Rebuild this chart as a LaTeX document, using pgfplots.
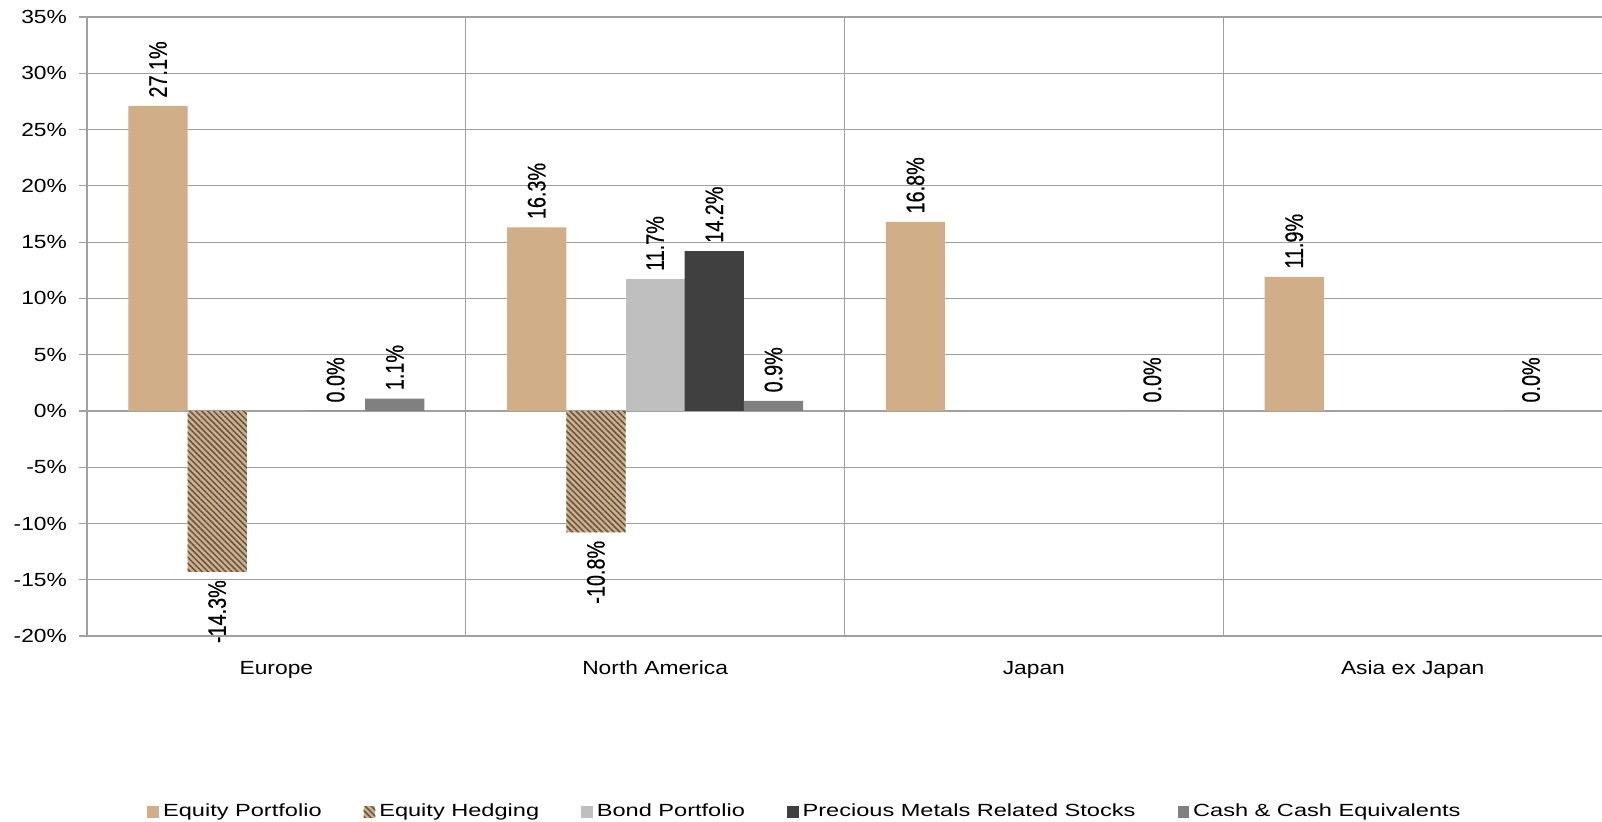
\documentclass[border=0pt]{standalone}
\usepackage{fontspec}
\setmainfont{Liberation Sans}
\newfontfamily\tickfont[FakeStretch=1.2]{Liberation Sans}
\newfontfamily\legfont[FakeStretch=1.34]{Liberation Sans}
\newfontfamily\rotfont[FakeStretch=0.78,FakeBold=0.4]{Liberation Sans}
\usepackage{pgfplots}
\pgfplotsset{compat=1.18}
\usetikzlibrary{patterns.meta}
\definecolor{eqtan}{RGB}{208,175,136}
\definecolor{stripe}{RGB}{95,85,72}
\definecolor{bondgray}{RGB}{191,191,191}
\definecolor{metalgray}{RGB}{64,64,64}
\definecolor{cashgray}{RGB}{128,128,128}
\definecolor{gridgray}{RGB}{160,160,160}
\begin{document}
\begin{tikzpicture}
\useasboundingbox (-43.5pt,-92.5pt) rectangle (757.5pt,318pt);
\pgfplotsset{mylegend/.style={legend image code/.code={\path[##1,draw=none] (0pt,-2.9pt) rectangle (5.8pt,2.9pt);}}}
\begin{axis}[
  at={(0pt,0pt)}, anchor=south west,
  scale only axis, width=757.5pt, height=309.5pt,
  ybar=0pt, bar width=29.6pt,
  xmin=-0.5, xmax=3.5, ymin=-20, ymax=35,
  xtick={0,1,2,3},
  xticklabels={Europe,North America,Japan,Asia ex Japan},
  minor xtick={0.5,1.5,2.5},
  xminorgrids,
  ytick={-20,-15,...,35},
  ymajorgrids,
  yticklabel={\pgfmathprintnumber{\tick}\%},
  /pgf/number format/assume math mode=true,
  axis x line*=bottom, axis y line*=left,
  axis line style={draw=gridgray, line width=0.6pt},
  grid style={draw=gridgray, line width=0.6pt},
  minor grid style={draw=gridgray, line width=0.6pt},
  tick align=outside,
  ytick style={draw=gridgray, line width=0.6pt},
  major tick length=4pt, minor tick length=0pt,
  xtick style={draw=none},
  tick label style={font=\tickfont\fontsize{9.5}{11}\selectfont, text=black},
  yticklabel style={xshift=-2.5pt},
  xticklabel style={yshift=-5pt},
  clip=false,
  nodes near coords={\pgfmathprintnumber[fixed,fixed zerofill,precision=1,assume math mode=true]{\pgfplotspointmeta}\%},
  every node near coord/.append style={rotate=90, anchor=west, font=\rotfont\fontsize{12.7}{14}\selectfont, text=black, inner sep=4pt},
  legend columns=5,
  legend style={draw=none, at={(0.4746,-0.284)}, anchor=center,
    font=\legfont\fontsize{8.8}{10}\selectfont, inner sep=0pt,
    /tikz/every even column/.append style={column sep=19pt}},
]
\addplot[fill=eqtan, draw=none, mylegend] coordinates {(0,27.1) (1,16.3) (2,16.8) (3,11.9)};
\addlegendentry{Equity Portfolio}
\addplot[preaction={fill=eqtan}, pattern={Lines[angle=-45,distance=2.1pt,line width=0.75pt]}, pattern color=stripe, draw=none, mylegend,
  every node near coord/.append style={anchor=east}] coordinates {(0,-14.3) (1,-10.8)};
\addlegendentry{Equity Hedging}
\addplot[fill=bondgray, draw=none, mylegend] coordinates {(1,11.7)};
\addlegendentry{Bond Portfolio}
\addplot[fill=metalgray, draw=none, mylegend] coordinates {(0,0.0) (1,14.2)};
\addlegendentry{Precious Metals Related Stocks}
\addplot[fill=cashgray, draw=none, mylegend] coordinates {(0,1.1) (1,0.9) (2,0.0) (3,0.0)};
\addlegendentry{Cash \& Cash Equivalents}
\end{axis}
\end{tikzpicture}
\end{document}
